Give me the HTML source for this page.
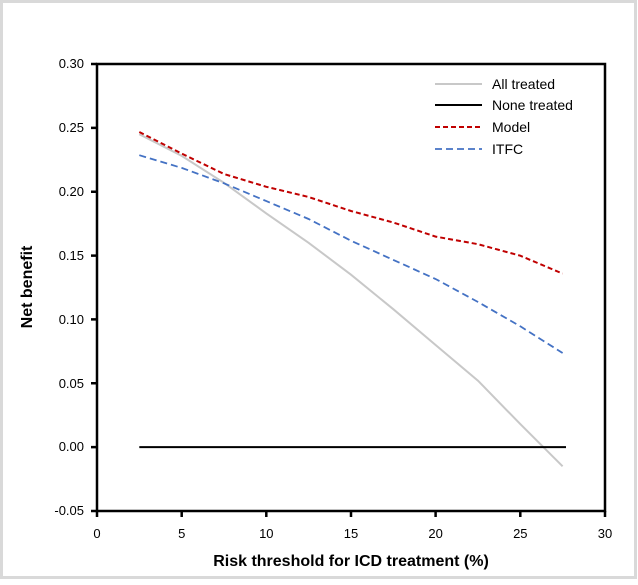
<!DOCTYPE html><html><head><style>body{margin:0;background:#fff}svg text{font-family:"Liberation Sans",sans-serif}</style></head><body>
<svg width="638" height="580" xmlns="http://www.w3.org/2000/svg">
<rect x="1.5" y="1.5" width="634" height="576" fill="#fff" stroke="#d9d9d9" stroke-width="3"/>
<g stroke="#000" stroke-width="2.5" fill="none">
<path d="M97 64H605V511H97Z"/>
<path d="M91 64H97M91 127.9H97M91 191.7H97M91 255.6H97M91 319.4H97M91 383.3H97M91 447.1H97M91 511H97"/>
<path d="M97 511V517M181.7 511V517M266.3 511V517M351 511V517M435.6 511V517M520.3 511V517M605 511V517"/>
</g>
<g font-size="13" text-anchor="end" fill="#000">
<text x="84" y="68">0.30</text><text x="84" y="132">0.25</text><text x="84" y="196">0.20</text><text x="84" y="260">0.15</text><text x="84" y="324">0.10</text><text x="84" y="388">0.05</text><text x="84" y="451">0.00</text><text x="84" y="515">-0.05</text>
</g>
<g font-size="13" text-anchor="middle">
<text x="97" y="538">0</text><text x="181.7" y="538">5</text><text x="266.3" y="538">10</text><text x="351" y="538">15</text><text x="435.6" y="538">20</text><text x="520.3" y="538">25</text><text x="605" y="538">30</text>
</g>
<text x="351" y="566" font-size="16" font-weight="bold" text-anchor="middle">Risk threshold for ICD treatment (%)</text>
<text transform="translate(32,287) rotate(-90)" font-size="16" font-weight="bold" text-anchor="middle">Net benefit</text>
<polyline fill="none" stroke="#c8c8c8" stroke-width="2" points="139.3,134.2 181.7,155.9 224,182.8 266.3,213.4 308.6,242.8 351,274.7 393.3,309.2 435.6,345 478,380.7 520.3,424.1 562.6,466.3"/>
<line x1="139.3" y1="447.1" x2="566" y2="447.1" stroke="#000" stroke-width="2"/>
<polyline fill="none" stroke="#c00000" stroke-width="2" stroke-dasharray="5,3" points="139.3,132 181.7,153.6 224,174 266.3,186.8 308.6,197 351,211 393.3,222.5 435.6,236.6 478,244.2 520.3,255.7 562.6,273.6"/>
<polyline fill="none" stroke="#4472c4" stroke-width="1.8" stroke-dasharray="7,4" points="139.3,155.2 181.7,167.9 224,183.3 266.3,201.1 308.6,219 351,240.7 393.3,259.9 435.6,279 478,302 520.3,326.3 562.6,353"/>
<g font-size="14">
<line x1="435" y1="84" x2="482" y2="84" stroke="#c8c8c8" stroke-width="2"/><text x="492" y="89">All treated</text>
<line x1="435" y1="105" x2="482" y2="105" stroke="#000" stroke-width="2"/><text x="492" y="110">None treated</text>
<line x1="435" y1="127" x2="482" y2="127" stroke="#c00000" stroke-width="2" stroke-dasharray="5,3"/><text x="492" y="132">Model</text>
<line x1="435" y1="149" x2="482" y2="149" stroke="#4472c4" stroke-width="1.8" stroke-dasharray="7,4"/><text x="492" y="154">ITFC</text>
</g>
</svg></body></html>
